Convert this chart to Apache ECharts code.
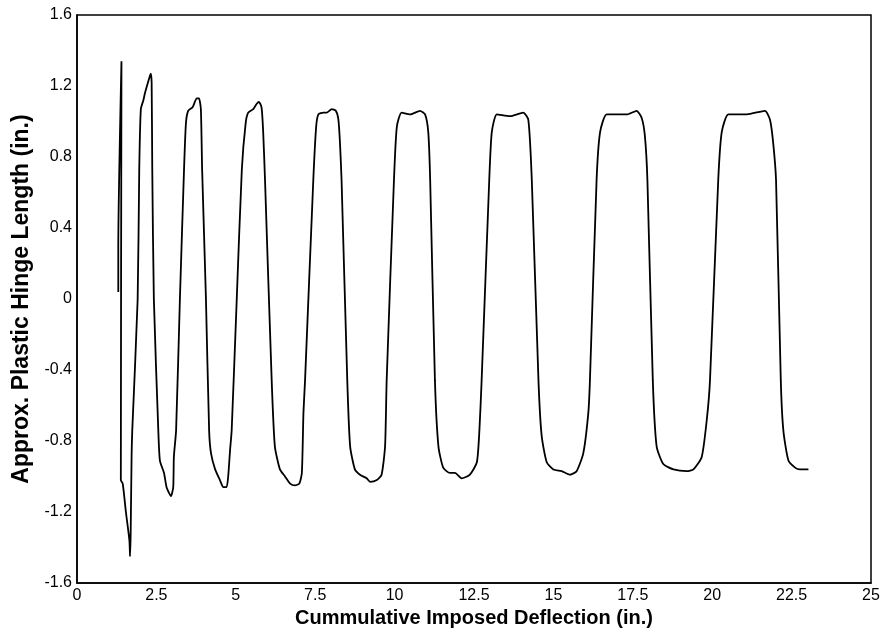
<!DOCTYPE html>
<html>
<head>
<meta charset="utf-8">
<script src="https://cdn.jsdelivr.net/npm/echarts@6/dist/echarts.min.js"></script>
<style>
html,body{margin:0;padding:0;background:#fff;}
#chart{width:881px;height:629px;}
</style>
</head>
<body>
<div id="chart"></div>
<script>
// Cumulative imposed deflection (in.)
const xVals = [
1.30,1.30,1.40,1.38,1.44,1.54,1.65,1.67,1.69,1.72,1.74,1.91,1.96,2.01,2.09,2.14,2.25,2.32,2.35,2.37,2.42,2.56,2.61,2.74,2.82,2.96,3.03,3.05,3.12,3.24,3.37,3.43,3.50,3.64,3.77,3.84,3.90,3.94,4.06,4.16,4.22,4.35,4.50,4.61,4.71,4.76,4.82,4.87,5.03,5.19,5.31,5.39,5.55,5.66,5.73,5.81,5.86,5.92,6.13,6.23,6.39,6.55,6.71,6.86,7.00,7.08,7.13,7.18,7.44,7.53,7.60,7.76,7.86,8.02,8.15,8.23,8.28,8.33,8.51,8.60,8.75,8.91,9.12,9.23,9.44,9.59,9.70,9.75,9.98,10.07,10.22,10.49,10.80,10.96,11.06,11.12,11.27,11.38,11.53,11.74,11.90,12.11,12.37,12.59,12.67,12.74,12.98,13.06,13.22,13.63,14.05,14.21,14.32,14.53,14.63,14.79,15.00,15.26,15.52,15.73,15.94,16.10,16.15,16.36,16.47,16.68,17.31,17.62,17.78,17.88,17.96,18.13,18.25,18.46,18.78,19.20,19.41,19.67,19.83,19.93,20.19,20.30,20.51,21.09,21.66,21.82,21.92,22.01,22.16,22.24,22.40,22.61,22.76,23.03
];
// Approx. plastic hinge length (in.)
const yVals = [
0.04,0.29,1.34,-1.02,-1.04,-1.20,-1.36,-1.45,-1.32,-0.87,-0.74,0.00,0.73,1.07,1.12,1.16,1.23,1.27,1.22,0.73,0.00,-0.74,-0.91,-0.98,-1.06,-1.11,-1.06,-0.89,-0.74,0.00,0.73,0.99,1.06,1.08,1.13,1.13,1.07,0.73,0.00,-0.74,-0.87,-0.96,-1.02,-1.06,-1.06,-1.00,-0.85,-0.74,0.00,0.73,0.99,1.05,1.07,1.10,1.11,1.08,0.95,0.67,-0.46,-0.83,-0.96,-1.00,-1.04,-1.05,-1.04,-0.98,-0.64,-0.46,0.67,0.97,1.04,1.05,1.05,1.07,1.06,1.01,0.88,0.67,-0.46,-0.83,-0.96,-0.99,-1.01,-1.03,-1.02,-0.99,-0.83,-0.46,0.67,0.97,1.05,1.04,1.06,1.04,0.94,0.67,-0.46,-0.83,-0.95,-0.98,-0.98,-1.01,-0.99,-0.92,-0.74,-0.46,0.67,0.94,1.04,1.03,1.05,1.01,0.67,-0.46,-0.77,-0.92,-0.96,-0.97,-0.99,-0.97,-0.87,-0.64,-0.46,0.67,0.94,1.04,1.04,1.06,1.02,0.92,0.67,-0.46,-0.83,-0.93,-0.96,-0.97,-0.96,-0.89,-0.68,-0.46,0.67,0.94,1.04,1.04,1.06,1.01,0.88,0.67,-0.46,-0.74,-0.91,-0.95,-0.96,-0.96
];
const xTicks = [0, 2.5, 5, 7.5, 10, 12.5, 15, 17.5, 20, 22.5, 25];
const yTicks = [-1.6, -1.2, -0.8, -0.4, 0, 0.4, 0.8, 1.2, 1.6];
const xTitle = 'Cummulative Imposed Deflection (in.)';
const yTitle = 'Approx. Plastic Hinge Length (in.)';

const points = xVals.map((x, i) => [x, yVals[i]]);
const chart = echarts.init(document.getElementById('chart'), null, {renderer: 'canvas'});
const fontFam = 'Liberation Sans, Arial, sans-serif';
chart.setOption({
  animation: false,
  backgroundColor: '#fff',
  grid: {left: 77, right: 10, top: 15, bottom: 46, outerBoundsMode: 'none', containLabel: false,
    show: true, borderColor: '#000', borderWidth: 1.5, backgroundColor: 'transparent'},
  xAxis: {
    type: 'value', min: xTicks[0], max: xTicks[xTicks.length - 1], interval: 2.5,
    name: xTitle, nameLocation: 'middle', nameGap: 19,
    nameTextStyle: {fontFamily: fontFam, fontWeight: 'bold', fontSize: 20, color: '#000'},
    axisLine: {show: true, onZero: false, lineStyle: {color: '#000', width: 1.5}},
    axisTick: {show: false},
    splitLine: {show: false},
    axisLabel: {color: '#000', fontSize: 16, fontFamily: fontFam, margin: 5,
      formatter: v => String(+v.toFixed(1))}
  },
  yAxis: {
    type: 'value', min: yTicks[0], max: yTicks[yTicks.length - 1], interval: 0.4,
    name: yTitle, nameLocation: 'middle', nameGap: 40, nameRotate: 90,
    nameTextStyle: {fontFamily: fontFam, fontWeight: 'bold', fontSize: 23, color: '#000'},
    axisLine: {show: true, onZero: false, lineStyle: {color: '#000', width: 1.5}},
    axisTick: {show: false},
    splitLine: {show: false},
    axisLabel: {color: '#000', fontSize: 16, fontFamily: fontFam, margin: 5,
      formatter: v => String(+v.toFixed(1))}
  },
  series: [{
    type: 'line', data: points, showSymbol: false, symbol: 'none',
    lineStyle: {color: '#000', width: 1.8}, smooth: 0.2
  }]
});
</script>
</body>
</html>
